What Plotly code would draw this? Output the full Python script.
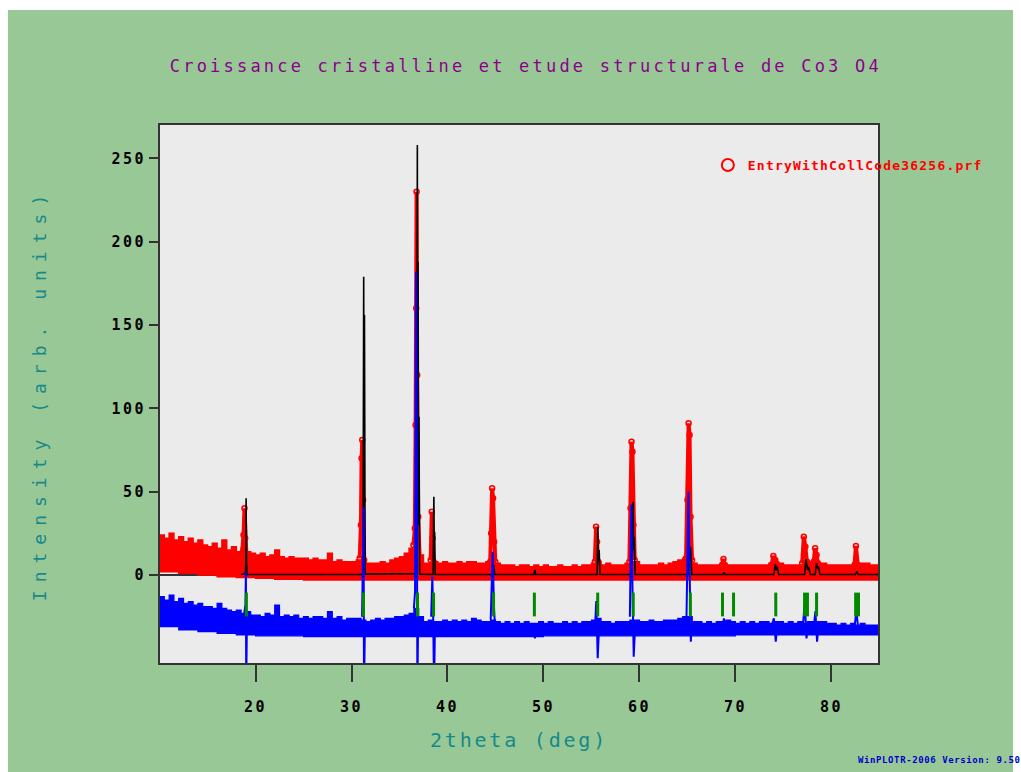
import plotly.graph_objects as go

# ---------------------------------------------------------------- data
# observed background envelope: upper edge on a 0.5 deg grid
band_x = [
    10.0, 10.5, 11.0, 11.5, 12.0, 12.5, 13.0, 13.5, 14.0, 14.5,
    15.0, 15.5, 16.0, 16.5, 17.0, 17.5, 18.0, 18.5, 19.0, 19.5,
    20.0, 20.5, 21.0, 21.5, 22.0, 22.5, 23.0, 23.5, 24.0, 24.5,
    25.0, 25.5, 26.0, 26.5, 27.0, 27.5, 28.0, 28.5, 29.0, 29.5,
    30.0, 30.5, 31.0, 31.5, 32.0, 32.5, 33.0, 33.5, 34.0, 34.5,
    35.0, 35.5, 36.0, 36.5, 37.0, 37.5, 38.0, 38.5, 39.0, 39.5,
    40.0, 40.5, 41.0, 41.5, 42.0, 42.5, 43.0, 43.5, 44.0, 44.5,
    45.0, 45.5, 46.0, 46.5, 47.0, 47.5, 48.0, 48.5, 49.0, 49.5,
    50.0, 50.5, 51.0, 51.5, 52.0, 52.5, 53.0, 53.5, 54.0, 54.5,
    55.0, 55.5, 56.0, 56.5, 57.0, 57.5, 58.0, 58.5, 59.0, 59.5,
    60.0, 60.5, 61.0, 61.5, 62.0, 62.5, 63.0, 63.5, 64.0, 64.5,
    65.0, 65.5, 66.0, 66.5, 67.0, 67.5, 68.0, 68.5, 69.0, 69.5,
    70.0, 70.5, 71.0, 71.5, 72.0, 72.5, 73.0, 73.5, 74.0, 74.5,
    75.0, 75.5, 76.0, 76.5, 77.0, 77.5, 78.0, 78.5, 79.0, 79.5,
    80.0, 80.5, 81.0, 81.5, 82.0, 82.5, 83.0, 83.5, 84.0, 84.5,
    85.0,
]
obs_top = [
    24, 22, 25, 21, 23, 20, 22, 19, 21, 18,
    17, 19, 16, 21, 15, 17, 14, 16, 14, 13,
    12, 13, 11, 12, 15, 11, 10, 11, 10, 10,
    10, 9, 10, 9, 9, 13, 8, 9, 8, 8,
    8, 9, 9, 7, 7, 7, 8, 7, 9, 10,
    11, 13, 16, 20, 12, 7, 7, 8, 7, 8,
    7, 7, 8, 7, 8, 8, 7, 7, 8, 9,
    7, 6, 6, 6, 5, 6, 6, 5, 6, 5,
    6, 5, 5, 6, 5, 5, 6, 5, 6, 6,
    7, 8, 6, 7, 6, 6, 6, 7, 8, 8,
    6, 6, 6, 6, 7, 6, 7, 8, 9, 10,
    10, 7, 6, 6, 6, 6, 6, 7, 6, 6,
    6, 6, 6, 6, 6, 6, 6, 7, 8, 7,
    6, 6, 6, 6, 7, 8, 8, 7, 7, 6,
    6, 6, 6, 6, 6, 6, 7, 7, 6, 6,
    6,
]
# observed background envelope: lower edge
obs_low_x = [10, 12, 14, 16, 18, 20, 22, 25, 30, 40, 50, 60, 70, 80, 85]
obs_low = [3, 2, 1, 0, -1, -1.5, -2, -2.5, -3, -3, -3, -3, -3, -3, -3]

# observed points across each reflection
obs_peak_x = [
    [18.6, 18.75, 18.85, 18.92, 19.05],
    [30.85, 30.98, 31.05, 31.12, 31.2, 31.32],
    [36.45, 36.6, 36.68, 36.74, 36.78, 36.84, 36.95, 37.1],
    [38.25, 38.36, 38.45, 38.55],
    [44.45, 44.55, 44.65, 44.75, 44.85, 44.98],
    [55.35, 55.48, 55.58, 55.7],
    [58.95, 59.07, 59.17, 59.27, 59.37, 59.5],
    [64.85, 65.0, 65.12, 65.22, 65.32, 65.48],
    [68.6, 68.75, 68.9],
    [73.75, 73.95, 74.15, 74.35],
    [76.95, 77.12, 77.28, 77.45],
    [78.15, 78.3, 78.45, 78.6],
    [82.4, 82.55, 82.75],
]
obs_peak_y = [
    [13, 24, 40, 22, 12],
    [10, 30, 70, 81, 45, 9],
    [18, 28, 90, 160, 230, 120, 35, 10],
    [9, 38, 22, 8],
    [8, 25, 52, 46, 20, 8],
    [8, 29, 20, 8],
    [8, 40, 80, 74, 30, 9],
    [10, 45, 91, 84, 35, 9],
    [6, 9.6, 6],
    [6, 11.4, 9, 6],
    [7, 23, 17, 8],
    [8, 16, 12, 7],
    [6, 17.4, 6],
]

# calculated profile
calc_x = [
    18.5, 18.95, 19.0, 19.02, 19.06, 19.12,
    31.2, 31.27, 31.31, 31.35, 31.42,
    36.78, 36.86, 36.89, 36.93, 36.98, 37.03, 37.1,
    38.5, 38.58, 38.62, 38.66, 38.72,
    44.72, 44.82, 44.92,
    49.0, 49.1, 49.2,
    55.6, 55.66, 55.72, 55.8, 55.88,
    59.22, 59.33, 59.38, 59.45, 59.55,
    65.1, 65.2, 65.26, 65.32, 65.45,
    68.7, 68.8, 68.9,
    74.0, 74.15, 74.25, 74.35, 74.5,
    77.2, 77.35, 77.5, 77.6, 77.8,
    78.3, 78.45, 78.55, 78.65, 78.8,
    82.5, 82.65, 82.8,
    85.0,
]
calc_y = [
    0.3, 1, 8, 46, 8, 0.3,
    0.3, 179, 40, 156, 0.5,
    0.8, 258, 60, 188, 30, 95, 0.5,
    0.3, 47, 15, 26, 0.3,
    0.3, 6, 0.3,
    0.3, 3, 0.3,
    0.3, 29, 8, 15, 0.3,
    0.3, 44, 15, 23, 0.3,
    0.3, 17, 10, 17, 0.3,
    0.3, 1.5, 0.3,
    0.3, 6.6, 3, 5, 0.3,
    0.3, 9.6, 3, 5, 0.3,
    0.3, 7, 4, 5, 0.3,
    0.3, 2, 0.3,
    0.3,
]

# difference (obs - calc): envelope on the same grid as band_x
diff_top = [
    20, 18, 21, 17, 19, 16, 17, 15, 16, 14,
    14, 13, 16, 13, 12, 11, 12, 10, 11, 9,
    9, 8, 10, 9, 15, 8, 9, 8, 9, 7,
    8, 7, 8, 8, 7, 11, 7, 8, 6, 7,
    7, 7, 6, 5, 6, 7, 6, 7, 7, 8,
    8, 9, 10, 13, 8, 5, 6, 5, 5, 6,
    5, 6, 5, 6, 5, 7, 6, 5, 5, 6,
    5, 4, 5, 4, 5, 4, 5, 4, 4, 5,
    4, 5, 4, 4, 5, 4, 5, 4, 5, 5,
    6, 7, 5, 5, 4, 5, 5, 5, 6, 6,
    5, 5, 6, 5, 5, 6, 6, 6, 7, 8,
    8, 5, 5, 4, 5, 4, 5, 5, 6, 5,
    4, 5, 4, 5, 4, 5, 5, 4, 5, 5,
    4, 5, 4, 5, 4, 5, 5, 5, 5, 4,
    4, 3, 4, 3, 4, 3, 4, 3, 3, 3,
    3,
]
diff_low_x = [10, 12, 14, 16, 18, 20, 25, 30, 40, 50, 60, 70, 80, 85]
diff_low = [4, 2, 0, -1, -2, -3, -3.5, -4, -4, -4, -3.5, -3.5, -3, -3]

# difference across each reflection
diff_peak_x = [
    [18.8, 18.95, 19.0, 19.03, 19.1],
    [31.1, 31.2, 31.26, 31.3, 31.4],
    [36.5, 36.62, 36.72, 36.8, 36.86, 36.95, 37.05],
    [38.3, 38.42, 38.5, 38.6, 38.7],
    [44.5, 44.6, 44.7, 44.85, 44.95],
    [48.95, 49.1, 49.25],
    [55.4, 55.5, 55.65, 55.8],
    [59.0, 59.15, 59.25, 59.4, 59.55],
    [64.9, 65.1, 65.2, 65.35, 65.45],
    [68.7, 68.8, 68.9],
    [73.85, 74.0, 74.2, 74.35],
    [77.05, 77.22, 77.4, 77.55],
    [78.2, 78.33, 78.5, 78.65],
    [82.45, 82.6, 82.75],
]
diff_peak_y = [
    [9, 15, 35, -37, 3],
    [8, 58, 74, -37, 3],
    [13, 23, 215, 133, -37, 8, 5],
    [8, 32, 13, -37, 5],
    [6, 23, 47, 13, 2],
    [3, -5, 3],
    [5, 17.4, -17, 3],
    [8, 75.5, 33, -16, 3],
    [8, 83, 43, -7, 5],
    [4, 7, 3],
    [4, 7, -7, 2],
    [4, 17, -5, 2],
    [4, 11.4, -7, 2],
    [4, 11.4, 3],
]

# Bragg reflection positions
bragg_pos = [19.05, 31.25, 36.88, 38.55, 44.8, 49.05, 55.65, 59.35, 65.3,
             68.65, 69.8, 74.2, 77.2, 77.5, 78.45, 82.52, 82.82]

x_tick_vals = [20, 30, 40, 50, 60, 70, 80]
x_tick_text = ["20", "30", "40", "50", "60", "70", "80"]
y_tick_vals = [0, 50, 100, 150, 200, 250]
y_tick_text = ["0", "50", "100", "150", "200", "250"]

# ---------------------------------------------------------------- styling
DIFF_OFFSET = -33.0   # where the difference curve sits
BRAGG_Y = -17.7       # row of Bragg ticks
MONO = "DejaVu Sans Mono"
RED = "#ff0000"
BLUE = "#0000ff"
GREEN = "#008a00"
TEAL = "#17898a"
PURPLE = "#8b008b"


def spaced(text, px):
    return f"<span style='letter-spacing:{px}px'>{text}</span>"


def join_segments(xs_list, ys_list, shift=0.0):
    xs, ys = [], []
    for px, py in zip(xs_list, ys_list):
        xs += list(px) + [None]
        ys += [v + shift for v in py] + [None]
    return xs, ys


fig = go.Figure()

# observed background band (stepped edge, one step per grid point)
fig.add_trace(go.Scatter(
    x=band_x + obs_low_x[::-1], y=obs_top + obs_low[::-1],
    mode="lines", fill="toself", fillcolor=RED,
    line=dict(color=RED, width=1.5, shape="hv"),
    showlegend=False, hoverinfo="skip"))

# observed reflections
ox, oy = join_segments(obs_peak_x, obs_peak_y)
fig.add_trace(go.Scatter(
    x=ox, y=oy, mode="lines", line=dict(color=RED, width=4),
    showlegend=False, hoverinfo="skip"))
fig.add_trace(go.Scatter(
    x=ox, y=oy, mode="markers",
    marker=dict(symbol="circle-open", size=5, color=RED, line=dict(width=1.5, color=RED)),
    name=spaced("EntryWithCollCode36256.prf", 1.2), showlegend=True))

# calculated profile
fig.add_trace(go.Scatter(
    x=calc_x, y=calc_y, mode="lines", line=dict(color="black", width=1.6),
    showlegend=False))

# difference band and reflections
fig.add_trace(go.Scatter(
    x=band_x + diff_low_x[::-1],
    y=[v + DIFF_OFFSET for v in diff_top] + [v + DIFF_OFFSET for v in diff_low[::-1]],
    mode="lines", fill="toself", fillcolor=BLUE,
    line=dict(color=BLUE, width=1.2, shape="hv"),
    showlegend=False, hoverinfo="skip"))
dx, dy = join_segments(diff_peak_x, diff_peak_y, DIFF_OFFSET)
fig.add_trace(go.Scatter(
    x=dx, y=dy, mode="lines", line=dict(color=BLUE, width=2),
    showlegend=False))

# Bragg positions
fig.add_trace(go.Scatter(
    x=bragg_pos, y=[BRAGG_Y] * len(bragg_pos), mode="markers",
    marker=dict(symbol="line-ns", size=17, line=dict(width=3, color=GREEN)),
    showlegend=False))

# white border strips around the green page
for x0, x1, y0, y1 in [(-0.3, 1.3, 1.2138, 1.3), (-0.3, -0.2117, -0.3, 1.3),
                       (1.1880, 1.3, -0.3, 1.3)]:
    fig.add_shape(type="rect", xref="paper", yref="paper", x0=x0, x1=x1, y0=y0, y1=y1,
                  fillcolor="white", line=dict(width=0), layer="below")

fig.add_annotation(
    text=spaced("<b>WinPLOTR-2006 Version: 9.50</b>", 0.6),
    xref="paper", yref="paper", x=0.969, y=-0.1803, xanchor="left", yanchor="middle",
    showarrow=False, font=dict(family=MONO, size=9, color="#0000cc"))

fig.update_layout(
    width=1021, height=772,
    margin=dict(l=160, r=143, t=125, b=109),
    paper_bgcolor="#98c896", plot_bgcolor="#ebebeb",
    title=dict(text=spaced("Croissance cristalline et etude structurale de Co3 O4", 3.2),
               x=0.515, y=0.9145, xanchor="center", yanchor="middle",
               font=dict(family=MONO, size=17, color=PURPLE)),
    legend=dict(x=0.763, y=0.9535, xanchor="left", yanchor="top",
                bgcolor="rgba(0,0,0,0)", itemsizing="constant",
                font=dict(family=MONO, size=13, color=RED, weight="bold")),
    xaxis=dict(range=[10.05, 84.85], tickvals=x_tick_vals,
               ticktext=[spaced(t, 2.5) for t in x_tick_text],
               ticks="outside", ticklen=17, tickwidth=1.5, tickcolor="#333",
               ticklabelstandoff=12,
               showline=True, mirror=True, linecolor="#333", linewidth=2,
               showgrid=False, zeroline=False,
               tickfont=dict(family=MONO, size=15, color="black", weight="bold"),
               title=dict(text=spaced("2theta (deg)", 2.8), standoff=18,
                          font=dict(family=MONO, size=20, color=TEAL))),
    yaxis=dict(range=[-52.8, 270], tickvals=y_tick_vals,
               ticktext=[spaced(t, 2.5) for t in y_tick_text],
               ticks="outside", ticklen=9, tickwidth=1.5, tickcolor="#333",
               showline=True, mirror=True, linecolor="#333", linewidth=2,
               showgrid=False, zeroline=True, zerolinecolor="#333", zerolinewidth=1.5,
               tickfont=dict(family=MONO, size=15, color="black", weight="bold"),
               title=dict(text=spaced("Intensity (arb. units)", 8), standoff=60,
                          font=dict(family=MONO, size=18, color=TEAL))),
)

fig.write_html("out.html")
